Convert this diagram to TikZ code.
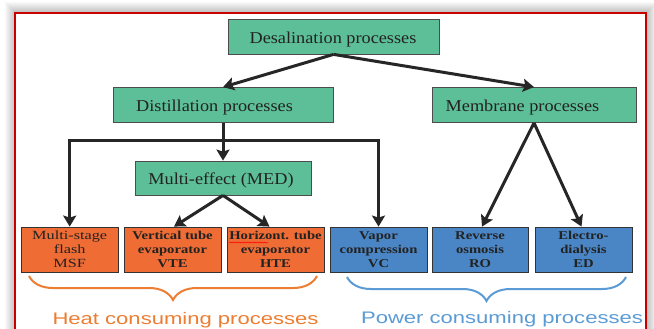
\documentclass[tikz,border=0pt]{standalone}
\usepackage{fontspec}
\setmainfont{Liberation Serif}
\newfontfamily\topfont[FakeStretch=1.1]{Liberation Serif}
\newfontfamily\botfont[FakeStretch=1.22]{Liberation Serif}
\newfontfamily\msffont[FakeStretch=1.3]{Liberation Serif}
\newfontfamily\labfont[FakeStretch=1.32]{Liberation Sans}
\usetikzlibrary{arrows.meta,decorations.pathreplacing,decorations.pathmorphing}
\definecolor{boxgreen}{HTML}{5CBF97}
\definecolor{boxorange}{HTML}{EF6C35}
\definecolor{boxblue}{HTML}{4A86C5}
\definecolor{heatcol}{HTML}{ED7D31}
\definecolor{powercol}{HTML}{5B9BD5}
\definecolor{framered}{HTML}{C80000}
\definecolor{linedark}{HTML}{262626}
\definecolor{textdark}{HTML}{222222}
\begin{document}
\begin{tikzpicture}[x=1pt,y=-1pt,
  gbox/.style={draw=black!70, line width=0.8pt, fill=boxgreen, inner sep=0pt, minimum height=35pt},
  lowbox/.style={draw=black!80, line width=0.8pt, inner sep=0pt, minimum width=97pt, minimum height=45pt,
    align=center, text=textdark, font=\botfont\bfseries\fontsize{12}{13.7}\selectfont},
  obox/.style={lowbox, fill=boxorange},
  bbox/.style={lowbox, fill=boxblue},
  toptext/.style={anchor=base, inner sep=0pt, text=textdark, font=\topfont\fontsize{16.6}{18}\selectfont},
  labtext/.style={anchor=base, inner sep=0pt, font=\labfont\fontsize{16.7}{19}\selectfont},
  ln/.style={draw=linedark, line width=3pt},
  arr/.style={ln, -{Stealth[length=11pt,width=13pt,inset=2pt]}},
  bracestyle/.style={line width=2pt, decorate, decoration={brace, mirror, amplitude=24pt}}
]
\useasboundingbox (0,0) rectangle (654,329);
\fill[white] (0,0) rectangle (654,329);
% shadow and frame
\foreach \k in {1,...,10}{
  \pgfmathsetmacro\op{0.25*(1-\k/11)}
  \draw[black, opacity=\op, line width=1pt] (15-\k,13-\k) rectangle (646+\k,345);
}
\draw[framered, line width=2pt] (15,13) rectangle (646,345);

% green boxes
\node[gbox, minimum width=211pt] (desal) at (333.5,36.5) {};
\node[toptext] (desalT) at (333,43.7) {Desalination processes};
\node[gbox, minimum width=220pt] (dist) at (223,105) {};
\node[toptext] (distT) at (214.5,111.7) {Distillation processes};
\node[gbox, minimum width=204pt] (mem) at (534,105) {};
\node[toptext] (memT) at (522.5,111.7) {Membrane processes};
\node[gbox, minimum width=176pt, minimum height=34pt] (med) at (223,178) {};
\node[toptext] (medT) at (221,184.3) {Multi-effect (MED)};

% bottom boxes
\node[obox, font=\msffont\fontsize{12.5}{13.9}\selectfont] (msf) at (69.7,249.5) {Multi-stage\\flash\\MSF};
\node[obox] (vte) at (172.5,249.5) {Vertical tube\\evaporator\\VTE};
\node[obox] (hte) at (275.5,249.5) {Horizont. tube\\evaporator\\HTE};
\node[bbox] (vc) at (378.5,249.5) {Vapor\\compression\\VC};
\node[bbox, minimum width=96pt] (ro) at (480,249.5) {Reverse\\osmosis\\RO};
\node[bbox] (ed) at (583.5,249.5) {Electro-\\dialysis\\ED};

% spell-check squiggle
\draw[red, line width=0.5pt, decorate, decoration={snake, amplitude=0.6pt, segment length=2.5pt}] (229,242.5) -- (268,242.5);

% connectors
\draw[arr] (desal.south) -- (dist.north);
\draw[arr] (desal.south) -- (mem.north);
\coordinate (bus) at (223,140);
\draw[ln] (dist.south) -- (bus);
\draw[arr] (bus) -- (med.north);
\draw[arr] (bus) -| (msf.north);
\draw[arr] (bus) -| (vc.north);
\draw[arr] (med.south) -- ([xshift=1.5pt]vte.north);
\draw[arr] (med.south) -- ([xshift=-6pt]hte.north);
\draw[arr] (mem.south) -- ([xshift=2pt]ro.north);
\draw[arr] (mem.south) -- ([xshift=-2pt]ed.north);

% braces and labels
\draw[heatcol, bracestyle] (29,276) -- (317,276);
\draw[powercol, bracestyle] (347,277) -- (626,277);
\node[labtext, text=heatcol] (heat) at (185.5,324) {Heat consuming processes};
\node[labtext, text=powercol] (power) at (502,323) {Power consuming processes};
\end{tikzpicture}
\end{document}
